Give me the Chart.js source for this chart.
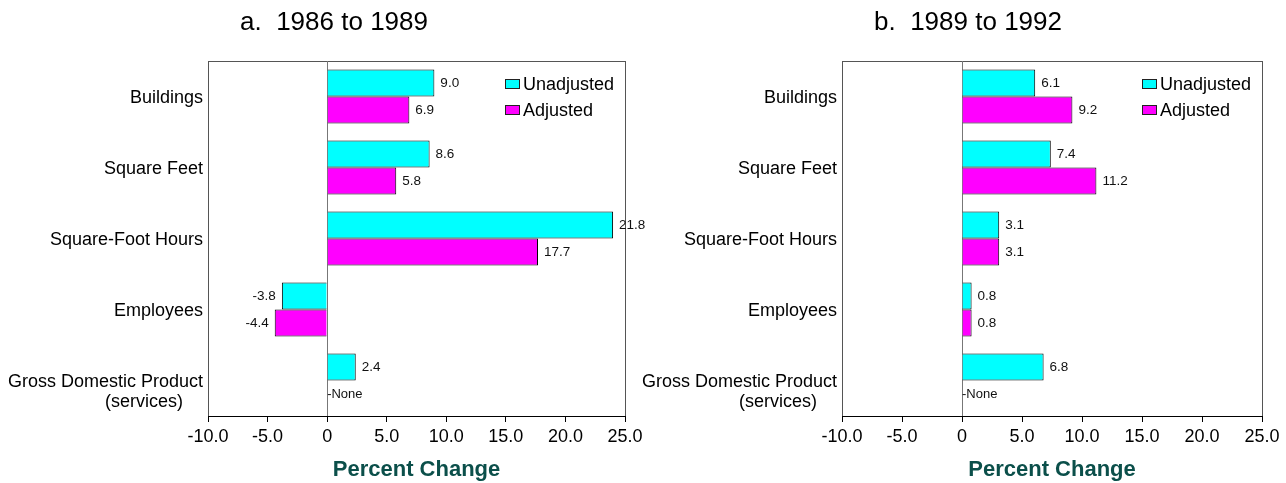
<!DOCTYPE html>
<html>
<head>
<meta charset="utf-8">
<script src="https://cdn.jsdelivr.net/npm/chart.js@4.4.1/dist/chart.umd.min.js"></script>
<style>
  html, body { margin: 0; padding: 0; background: #fff; }
  body { width: 1286px; height: 483px; overflow: hidden; position: relative; }
  canvas { position: absolute; top: 0; }
  #chartA { left: 0; }
  #chartB { left: 634px; }
</style>
</head>
<body>
<canvas id="chartA" width="668" height="483"></canvas>
<canvas id="chartB" width="668" height="483"></canvas>
<script>
// categories (the empty first line just nudges the two-line label down like the original)
const categories = ['Buildings', 'Square Feet', 'Square-Foot Hours', 'Employees', ['', 'Gross Domestic Product', '(services)    ']];
const seriesNames = ['Unadjusted', 'Adjusted'];

// bar lengths as drawn; the printed numbers are kept separately because the
// original's square-foot-hours bar runs longer than its 21.8 label
const unadjusted8689 = [9.0, 8.6, 24.0, -3.8, 2.4];
const adjusted8689 = [6.9, 5.8, 17.7, -4.4, null];
const unadjusted8992 = [6.1, 7.4, 3.1, 0.8, 6.8];
const adjusted8992 = [9.2, 11.2, 3.1, 0.8, null];

const unadjusted8689Text = ['9.0', '8.6', '21.8', '-3.8', '2.4'];
const adjusted8689Text = ['6.9', '5.8', '17.7', '-4.4', '-None'];
const unadjusted8992Text = ['6.1', '7.4', '3.1', '0.8', '6.8'];
const adjusted8992Text = ['9.2', '11.2', '3.1', '0.8', '-None'];

const xTicks = [-10, -5, 0, 5, 10, 15, 20, 25];

const FONT = '"Liberation Sans", Arial, sans-serif';

// panel title is centred on the whole canvas, not the padded layout box
const panelTitlePlugin = {
    id: 'panelTitle',
    afterDraw(chart, args, opts) {
        const ctx = chart.ctx;
        ctx.save();
        ctx.font = '26px ' + FONT;
        ctx.fillStyle = '#000';
        ctx.textAlign = 'center';
        ctx.textBaseline = 'middle';
        ctx.fillText(opts.text, chart.width / 2, 23);
        ctx.restore();
    }
};

const framePlugin = {
    id: 'frame',
    beforeDraw(chart) {
        const { ctx, chartArea: a } = chart;
        ctx.save();
        ctx.strokeStyle = '#555';
        ctx.lineWidth = 1;
        ctx.strokeRect(a.left + 0.5, a.top + 0.5, a.right - a.left, a.bottom - a.top);
        ctx.restore();
    }
};

const valueLabelPlugin = {
    id: 'valueLabels',
    afterDatasetsDraw(chart) {
        const ctx = chart.ctx;
        const zeroX = chart.scales.x.getPixelForValue(0);
        ctx.save();
        ctx.fillStyle = '#111';
        ctx.textBaseline = 'middle';
        chart.data.datasets.forEach((ds, di) => {
            chart.getDatasetMeta(di).data.forEach((bar, i) => {
                const v = ds.data[i];
                const txt = ds.valueText[i];
                if (v === null) {
                    ctx.font = '13px ' + FONT;
                    ctx.textAlign = 'left';
                    ctx.fillText(txt, zeroX, bar.y);
                    return;
                }
                ctx.font = '13.5px ' + FONT;
                ctx.textAlign = v < 0 ? 'right' : 'left';
                ctx.fillText(txt, bar.x + (v < 0 ? -6 : 6), bar.y);
            });
        });
        ctx.restore();
    }
};

// legend sits inside the plot, top right
const insideLegendPlugin = {
    id: 'insideLegend',
    afterDraw(chart) {
        const { ctx, chartArea: a } = chart;
        ctx.save();
        ctx.font = '18px ' + FONT;
        ctx.textBaseline = 'middle';
        ctx.textAlign = 'left';
        chart.data.datasets.forEach((ds, i) => {
            const x = a.right - 120;
            const y = a.top + 23 + i * 26;
            ctx.fillStyle = ds.backgroundColor;
            ctx.fillRect(x, y - 5, 15, 10);
            ctx.strokeStyle = '#222';
            ctx.lineWidth = 1;
            ctx.strokeRect(x + 0.5, y - 4.5, 14, 9);
            ctx.fillStyle = '#000';
            ctx.fillText(ds.label, x + 18, y + 1);
        });
        ctx.restore();
    }
};

function drawPanel(canvasId, title, unadjusted, adjusted, unadjText, adjText, rightPad) {
    return new Chart(document.getElementById(canvasId), {
        type: 'bar',
        data: {
            labels: categories,
            datasets: [
                { label: seriesNames[0], data: unadjusted, valueText: unadjText, backgroundColor: '#00ffff', borderColor: '#000', borderWidth: 1 },
                { label: seriesNames[1], data: adjusted, valueText: adjText, backgroundColor: '#ff00ff', borderColor: '#000', borderWidth: 1 }
            ]
        },
        options: {
            indexAxis: 'y',
            responsive: false,
            animation: false,
            devicePixelRatio: 1,
            categoryPercentage: 0.76,
            barPercentage: 1.0,
            layout: { padding: { left: 0, right: rightPad, top: 61, bottom: 0 } },
            plugins: {
                legend: { display: false },
                tooltip: { enabled: false },
                title: { display: false },
                panelTitle: { text: title }
            },
            scales: {
                x: {
                    min: xTicks[0],
                    max: xTicks[xTicks.length - 1],
                    afterBuildTicks: s => { s.ticks = xTicks.map(v => ({ value: v })); },
                    afterFit: s => { s.height = 67; },
                    grid: {
                        color: c => (c.tick && c.tick.value === 0) ? '#777' : 'rgba(0,0,0,0)',
                        tickColor: '#000',
                        tickLength: 6
                    },
                    border: { color: '#000', width: 1 },
                    ticks: {
                        color: '#000',
                        padding: 4,
                        maxRotation: 0,
                        autoSkip: false,
                        font: { family: FONT, size: 18 },
                        callback: v => v === 0 ? '0' : v.toFixed(1)
                    },
                    title: {
                        display: true,
                        text: 'Percent Change',
                        color: '#0b4f4a',
                        font: { family: FONT, size: 22, weight: 'bold', lineHeight: 1.2 },
                        padding: { top: 9, bottom: 0 }
                    }
                },
                y: {
                    afterFit: s => { s.width = 208; },
                    grid: { display: false, drawTicks: false },
                    border: { display: false },
                    ticks: { color: '#000', padding: 5, labelOffset: 2, font: { family: FONT, size: 18, lineHeight: 1.1 } }
                }
            }
        },
        plugins: [panelTitlePlugin, framePlugin, valueLabelPlugin, insideLegendPlugin]
    });
}

drawPanel('chartA', 'a.  1986 to 1989', unadjusted8689, adjusted8689, unadjusted8689Text, adjusted8689Text, 43);
drawPanel('chartB', 'b.  1989 to 1992', unadjusted8992, adjusted8992, unadjusted8992Text, adjusted8992Text, 40);
</script>
</body>
</html>
